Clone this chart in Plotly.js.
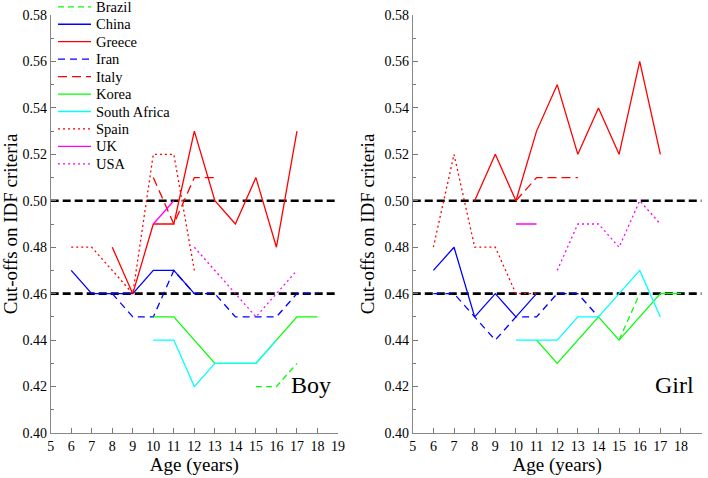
<!DOCTYPE html>
<html>
<head>
<meta charset="utf-8">
<script src="https://cdn.plot.ly/plotly-3.0.1.min.js"></script>
<style>html,body{margin:0;padding:0;background:#fff;}#chart{width:708px;height:478px;}</style>
</head>
<body>
<div id="chart"></div>
<script>
// Ages (x values)
const ages = [6,7,8,9,10,11,12,13,14,15,16,17,18];
const refX = [5,19];
const refHigh = [0.50,0.50];
const refLow = [0.46,0.46];

const countries = ["Brazil","China","Greece","Iran","Italy","Korea","South Africa","Spain","UK","USA"];

// Boy values by age (6..18)
const boyBrazil      = [null,null,null,null,null,null,null,null,null,0.42,0.42,0.43,null];
const boyChina       = [0.47,0.46,0.46,0.46,0.47,0.47,0.46,null,null,null,null,null,null];
const boyGreece      = [null,null,0.48,0.46,0.49,0.49,0.53,0.50,0.49,0.51,0.48,0.53,null];
const boyIran        = [null,null,0.46,0.45,0.45,0.47,0.46,0.46,0.45,0.45,0.45,0.46,0.46];
const boyItaly       = [null,null,null,null,0.51,0.49,0.51,0.51,null,null,null,null,null];
const boyKorea       = [null,null,null,null,0.45,0.45,0.44,0.43,0.43,0.43,0.44,0.45,0.45];
const boySouthAfrica = [null,null,null,null,0.44,0.44,0.42,0.43,0.43,0.43,0.44,null,null];
const boySpain       = [0.48,0.48,0.47,0.46,0.52,0.52,0.47,null,null,null,null,null,null];
const boyUK          = [null,null,null,null,0.49,0.50,null,null,null,null,null,null,null];
const boyUSA         = [null,null,null,null,null,null,0.48,0.47,0.46,0.45,0.46,0.47,null];

// Girl values by age (6..18)
const girlBrazil      = [null,null,null,null,null,null,null,null,null,0.44,0.46,null,null];
const girlChina       = [0.47,0.48,0.45,0.46,0.45,0.46,null,null,null,null,null,null,null];
const girlGreece      = [null,null,0.50,0.52,0.50,0.53,0.55,0.52,0.54,0.52,0.56,0.52,null];
const girlIran        = [0.46,0.46,0.45,0.44,0.45,0.45,0.46,0.46,0.45,null,null,null,null];
const girlItaly       = [null,null,null,null,0.50,0.51,0.51,0.51,null,null,null,null,null];
const girlKorea       = [null,null,null,null,null,0.44,0.43,0.44,0.45,0.44,0.45,0.46,0.46];
const girlSouthAfrica = [null,null,null,null,0.44,0.44,0.44,0.45,0.45,0.46,0.47,0.45,null];
const girlSpain       = [0.48,0.52,0.48,0.48,0.46,0.46,null,null,null,null,null,null,null];
const girlUK          = [null,null,null,null,0.49,0.49,null,null,null,null,null,null,null];
const girlUSA         = [null,null,null,null,null,null,0.47,0.49,0.49,0.48,0.50,0.49,null];

const boyData  = [boyBrazil,boyChina,boyGreece,boyIran,boyItaly,boyKorea,boySouthAfrica,boySpain,boyUK,boyUSA];
const girlData = [girlBrazil,girlChina,girlGreece,girlIran,girlItaly,girlKorea,girlSouthAfrica,girlSpain,girlUK,girlUSA];

const styles = [
  {color:"#00ff00", dash:"6px,4px"},
  {color:"#0000ff", dash:"solid"},
  {color:"#ff0000", dash:"solid"},
  {color:"#0000ff", dash:"7px,5px"},
  {color:"#ff0000", dash:"9px,5px"},
  {color:"#00ff00", dash:"solid"},
  {color:"#00ffff", dash:"solid"},
  {color:"#ff0000", dash:"2px,3px"},
  {color:"#ff00ff", dash:"solid"},
  {color:"#ff00ff", dash:"2px,3px"}
];

const FONT = "Liberation Serif, Times New Roman, serif";
const W = 708, H = 478, MT = 15, MB = 45;
const plotH = H - MT - MB;
const traces = [];

// reference lines
[["x","y"],["x2","y2"]].forEach(function(ax){
  [refHigh, refLow].forEach(function(r){
    traces.push({x:refX, y:r, xaxis:ax[0], yaxis:ax[1], mode:"lines", showlegend:false, hoverinfo:"skip",
      line:{color:"#000", width:2.6, dash:"8px,4px"}});
  });
});

countries.forEach(function(c,i){
  traces.push({x:ages, y:boyData[i], name:c, xaxis:"x", yaxis:"y", mode:"lines",
    line:{color:styles[i].color, width:1.3, dash:styles[i].dash}, showlegend:false});
});
countries.forEach(function(c,i){
  traces.push({x:ages, y:girlData[i], name:c, xaxis:"x2", yaxis:"y2", mode:"lines",
    line:{color:styles[i].color, width:1.3, dash:styles[i].dash}, showlegend:false});
});

// hand-built legend (compact spacing like the reference)
const shapes = [];
const annotations = [];
function py(px){ return (H - MB - px) / plotH; }
countries.forEach(function(c,i){
  const ypx = 6.8 + i * 17.45;
  shapes.push({type:"line", xref:"paper", yref:"paper", x0:58/W, x1:91/W, y0:py(ypx), y1:py(ypx),
    line:{color:styles[i].color, width:1.3, dash:styles[i].dash}});
  annotations.push({text:c, xref:"paper", yref:"paper", x:94/W, y:py(ypx), xanchor:"left", yanchor:"middle",
    showarrow:false, font:{family:FONT, size:14.5, color:"#000"}});
});

function xAxis(domain, anchor){
  return {domain:domain, anchor:anchor, range:[5,19], dtick:1, tick0:5, ticks:"inside", ticklen:5,
    tickcolor:"#777", showline:true, linecolor:"#888", linewidth:1, showgrid:false, zeroline:false,
    tickfont:{family:FONT, size:14, color:"#000"},
    title:{text:"Age (years)", font:{family:FONT, size:19, color:"#000"}, standoff:4}};
}
function yAxis(anchor){
  return {anchor:anchor, range:[0.40,0.58], dtick:0.02, tick0:0.40, tickformat:".2f", ticks:"inside", ticklen:5,
    tickcolor:"#777", showline:true, linecolor:"#888", linewidth:1, showgrid:false, zeroline:false,
    minor:{dtick:0.01, ticks:"inside", ticklen:3, tickcolor:"#777"},
    tickfont:{family:FONT, size:14, color:"#000"},
    title:{text:"Cut-offs on IDF criteria", font:{family:FONT, size:19, color:"#000"}, standoff:4}};
}

annotations.push({text:"Boy", xref:"x", yref:"y", x:18.78, y:0.4205, xanchor:"right", yanchor:"middle", showarrow:false,
  font:{family:FONT, size:24, color:"#000"}});
annotations.push({text:"Girl", xref:"x2", yref:"y2", x:18.72, y:0.4205, xanchor:"right", yanchor:"middle", showarrow:false,
  font:{family:FONT, size:24, color:"#000"}});

const layout = {
  width:W, height:H,
  margin:{l:0, r:0, t:MT, b:MB},
  paper_bgcolor:"#fff", plot_bgcolor:"#fff",
  font:{family:FONT, color:"#000"},
  xaxis: xAxis([0.0716,0.4774],"y"),
  yaxis: yAxis("x"),
  xaxis2: xAxis([0.583,0.991],"y2"),
  yaxis2: yAxis("x2"),
  showlegend:false,
  shapes:shapes,
  annotations:annotations
};

Plotly.newPlot("chart", traces, layout, {displayModeBar:false, staticPlot:true});
</script>
</body>
</html>
